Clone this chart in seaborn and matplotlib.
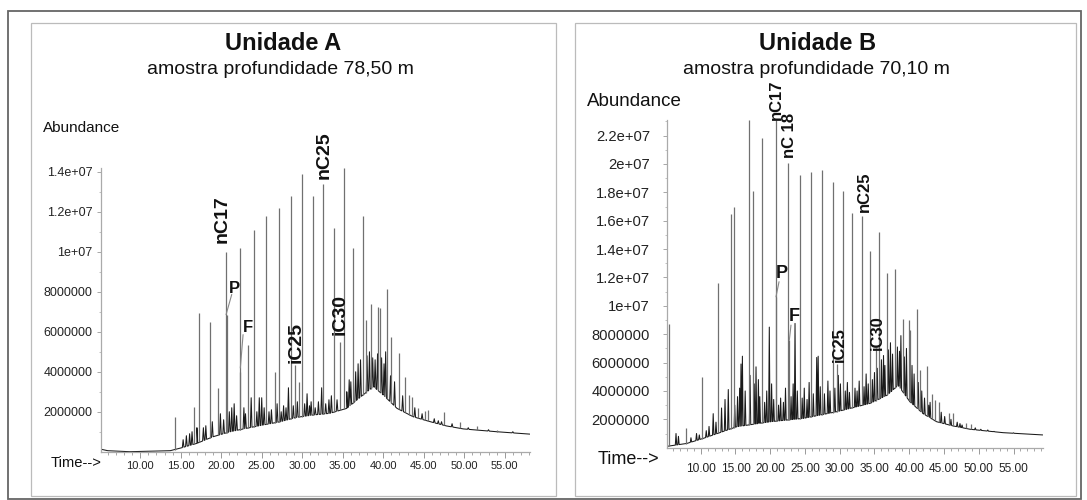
import numpy as np
import matplotlib
matplotlib.use("Agg")
import matplotlib.pyplot as plt
import seaborn as sns

# =========================
# DATA
# =========================
# Unidade A - background hump (time min, abundance)
a_base_t = [5.2, 6.0, 8.7, 13.7, 14.9, 17.0, 19.0, 21.1, 23.1, 25.2, 27.3, 29.3, 31.4, 33.4,
            35.5, 37.5, 38.8, 40.0, 41.7, 43.7, 45.8, 47.8, 49.9, 54.0, 58.1]
a_base_y = [0.12e6, 0.05e6, 0.0, 0.05e6, 0.17e6, 0.42e6, 0.75e6, 1.0e6, 1.17e6, 1.34e6, 1.5e6,
            1.72e6, 1.84e6, 1.92e6, 2.17e6, 2.84e6, 3.26e6, 2.84e6, 2.17e6, 1.75e6, 1.5e6,
            1.29e6, 1.14e6, 1.0e6, 0.88e6]

# Unidade A - resolved peaks (tall lines)
a_peak_t = [14.26, 16.68, 17.30, 18.62, 19.64, 20.56, 20.68, 22.28, 22.36, 23.31, 24.01, 25.57,
            26.64, 27.10, 28.62, 29.11, 29.64, 30.01, 31.33, 32.60, 33.89, 34.67, 35.16, 36.31,
            37.47, 37.88, 38.49, 39.36, 39.60, 40.47, 41.00, 41.91, 42.65, 43.22, 43.59, 44.33,
            45.16, 45.57, 47.54, 49.48, 51.54, 54.01]
a_peak_y = [1.75e6, 2.25e6, 6.95e6, 6.48e6, 3.18e6, 1.0e7, 6.85e6, 1.02e7, 4.0e6, 5.36e6, 1.11e7,
            1.18e7, 4.0e6, 1.22e7, 1.28e7, 4.35e6, 3.5e6, 1.39e7, 1.28e7, 1.34e7, 1.12e7, 5.5e6,
            1.42e7, 1.02e7, 1.18e7, 6.6e6, 7.4e6, 7.25e6, 7.2e6, 8.15e6, 5.75e6, 4.94e6, 3.73e6,
            2.85e6, 2.76e6, 2.2e6, 2.06e6, 2.1e6, 1.97e6, 1.5e6, 1.29e6, 1.1e6]

# Unidade A - small unresolved peaks on the hump
a_minor_t = [15.3, 15.7, 16.1, 16.4, 17.0, 17.8, 18.1, 18.9, 19.9, 20.3, 21.0, 21.3, 21.6, 21.9,
             22.8, 23.0, 23.7, 24.4, 24.7, 25.0, 25.3, 25.9, 26.2, 26.9, 27.4, 27.7, 28.0, 28.3,
             28.9, 29.4, 30.3, 30.6, 30.9, 31.1, 31.6, 32.0, 32.4, 32.9, 33.3, 33.6, 34.3, 35.5,
             35.8, 36.0, 36.6, 36.9, 37.2, 38.0, 38.3, 38.7, 39.0, 39.3, 39.8, 40.1, 40.3, 40.9,
             41.4, 42.4, 43.9, 44.8, 46.3, 46.8, 47.2, 48.5, 50.5, 53.0, 56.0]
a_minor_y = [0.6e6, 0.8e6, 0.9e6, 1.0e6, 1.2e6, 1.2e6, 1.3e6, 1.5e6, 1.9e6, 1.6e6, 2.0e6, 2.2e6,
             2.4e6, 1.8e6, 2.2e6, 1.9e6, 2.7e6, 2.0e6, 2.7e6, 2.7e6, 2.2e6, 2.0e6, 2.1e6, 2.4e6,
             2.0e6, 2.3e6, 2.2e6, 3.2e6, 2.3e6, 2.5e6, 2.4e6, 2.9e6, 2.3e6, 2.5e6, 2.2e6, 2.5e6,
             3.2e6, 2.4e6, 2.6e6, 2.8e6, 2.6e6, 3.0e6, 3.6e6, 3.5e6, 4.0e6, 4.4e6, 4.6e6, 4.8e6,
             5.0e6, 4.7e6, 4.6e6, 4.9e6, 4.7e6, 4.4e6, 5.0e6, 3.8e6, 3.5e6, 2.8e6, 2.2e6, 1.9e6,
             1.65e6, 1.55e6, 1.5e6, 1.4e6, 1.2e6, 1.1e6, 1.0e6]

# Unidade B - background hump
b_base_t = [5.2, 8.0, 10.4, 15.2, 20.0, 24.8, 29.6, 34.4, 36.8, 38.4, 40.1, 42.0, 43.95, 46.35,
            48.75, 53.5, 59.2]
b_base_y = [0.1e6, 0.3e6, 0.66e6, 1.48e6, 1.83e6, 2.07e6, 2.54e6, 3.13e6, 3.7e6, 4.4e6, 3.24e6,
            2.4e6, 1.83e6, 1.53e6, 1.3e6, 1.06e6, 0.9e6]

# Unidade B - resolved peaks
b_peak_t = [5.48, 7.88, 10.23, 12.53, 14.30, 14.75, 16.90, 17.48, 18.82, 20.83, 20.90, 22.50,
            22.70, 24.29, 25.87, 27.50, 28.99, 29.57, 30.43, 31.82, 33.16, 34.40, 35.18, 35.70,
            36.76, 37.96, 39.06, 39.93, 40.10, 41.08, 41.60, 42.50, 43.28, 43.76, 44.24, 45.68,
            46.35, 48.17, 48.90]
b_peak_y = [8.7e6, 1.37e6, 5.0e6, 1.158e7, 1.65e7, 1.70e7, 2.31e7, 1.81e7, 2.18e7, 2.31e7, 1.06e7,
            2.01e7, 7.6e6, 1.92e7, 1.94e7, 1.96e7, 1.87e7, 5.9e6, 1.81e7, 1.655e7, 1.63e7,
            1.385e7, 7.0e6, 1.52e7, 1.228e7, 1.263e7, 9.04e6, 9.0e6, 8.3e6, 9.77e6, 5.5e6,
            5.75e6, 3.76e6, 3.36e6, 3.24e6, 2.42e6, 2.45e6, 1.72e6, 1.7e6]

# Unidade B - small unresolved peaks
b_minor_t = [6.45, 6.8, 8.6, 9.4, 9.8, 10.8, 11.2, 11.8, 12.2, 13.0, 13.5, 13.97, 14.9, 15.3,
             15.6, 15.8, 16.0, 16.4, 17.1, 17.7, 17.96, 18.3, 18.5, 19.2, 19.5, 19.87, 20.2,
             20.5, 21.2, 21.5, 21.9, 22.2, 23.0, 23.3, 23.57, 23.9, 24.6, 24.9, 25.3, 25.6, 26.2,
             26.69, 26.9, 27.2, 27.8, 28.3, 28.6, 29.3, 29.8, 30.1, 30.8, 31.1, 31.4, 32.2, 32.5,
             32.8, 33.5, 33.8, 34.1, 34.7, 35.0, 35.4, 36.0, 36.3, 36.5, 37.0, 37.3, 37.6, 38.3,
             38.6, 38.8, 39.3, 39.6, 40.4, 40.7, 41.3, 41.8, 42.2, 42.8, 43.0, 44.6, 45.1, 46.0,
             46.9, 47.3, 47.6, 49.5, 50.3, 51.3, 52.2, 55.0, 56.5]
b_minor_y = [1.0e6, 0.8e6, 0.7e6, 1.0e6, 0.9e6, 1.2e6, 1.5e6, 2.4e6, 1.8e6, 2.8e6, 3.4e6, 4.1e6,
             3.0e6, 3.6e6, 4.2e6, 5.9e6, 6.45e6, 4.0e6, 5.1e6, 4.5e6, 5.7e6, 4.8e6, 3.6e6, 3.2e6,
             4.0e6, 8.5e6, 4.5e6, 3.4e6, 3.0e6, 3.5e6, 3.2e6, 4.2e6, 3.6e6, 4.5e6, 8.76e6, 4.0e6,
             3.5e6, 4.2e6, 3.4e6, 4.6e6, 3.8e6, 6.36e6, 6.45e6, 4.3e6, 3.8e6, 4.7e6, 4.0e6, 4.2e6,
             5.1e6, 4.5e6, 4.0e6, 4.6e6, 3.9e6, 4.2e6, 4.0e6, 4.7e6, 4.3e6, 5.2e6, 4.5e6, 4.8e6,
             5.3e6, 5.6e6, 6.2e6, 6.5e6, 5.8e6, 6.9e6, 7.4e6, 6.6e6, 7.1e6, 6.8e6, 7.9e6, 6.4e6,
             7.0e6, 5.8e6, 5.2e6, 4.6e6, 4.0e6, 3.5e6, 3.0e6, 3.2e6, 2.5e6, 2.2e6, 2.0e6, 1.8e6,
             1.7e6, 1.6e6, 1.4e6, 1.3e6, 1.25e6, 1.15e6, 1.05e6, 0.98e6]

a_yticks = [2e6, 4e6, 6e6, 8e6, 1e7, 1.2e7, 1.4e7]
a_yticklabels = ["2000000", "4000000", "6000000", "8000000", "1e+07", "1.2e+07", "1.4e+07"]
b_yticks = [2e6, 4e6, 6e6, 8e6, 1e7, 1.2e7, 1.4e7, 1.6e7, 1.8e7, 2e7, 2.2e7]
b_yticklabels = ["2000000", "4000000", "6000000", "8000000", "1e+07", "1.2e+07", "1.4e+07",
                 "1.6e+07", "1.8e+07", "2e+07", "2.2e+07"]
xticks = [10, 15, 20, 25, 30, 35, 40, 45, 50, 55]
xticklabels = ["10.00", "15.00", "20.00", "25.00", "30.00", "35.00", "40.00", "45.00", "50.00", "55.00"]

# compound labels: (text, time, abundance)
a_rot_labels = [("nC17", 20.1, 1.047e7), ("nC25", 32.75, 1.365e7),
                ("iC25", 29.27, 4.44e6), ("iC30", 34.67, 5.86e6)]
b_rot_labels = [("nC17", 20.83, 2.31e7), ("nC 18", 22.73, 2.04e7), ("nC25", 33.5, 1.66e7),
                ("iC25", 29.95, 6.06e6), ("iC30", 35.44, 6.88e6)]

# =========================
# STYLE
# =========================
sns.set_theme(style="white")
plt.rcParams["font.family"] = ["Liberation Sans", "DejaVu Sans"]

W, H = 1087, 500
fig = plt.figure(figsize=(W / 100, H / 100), dpi=100)


def fx(x):
    return x / W


def fy(y):
    return 1 - y / H


def frame(x0, y0, x1, y1, color, lw):
    fig.add_artist(plt.Rectangle((fx(x0), fy(y1)), (x1 - x0) / W, (y1 - y0) / H,
                                 transform=fig.transFigure, fill=False, ec=color, lw=lw))


frame(8, 11, 1081, 499, "#666666", 1.3)
frame(31, 23, 556, 496, "#bbbbbb", 0.9)
frame(575, 23, 1076, 496, "#bbbbbb", 0.9)


def build_trace(base_t, base_y, minor_t, minor_y, w=0.1):
    # background line with small triangular spikes
    xs = list(base_t)
    ys = list(base_y)
    for t, top in zip(minor_t, minor_y):
        for dt in (-w, w):
            xs.append(t + dt)
            ys.append(np.interp(t + dt, base_t, base_y))
        xs.append(t)
        ys.append(top)
    order = np.argsort(xs)
    return np.array(xs)[order], np.array(ys)[order]


def draw_panel(ax, base_t, base_y, peak_t, peak_y, minor_t, minor_y, xlim, ylim,
               yticks, yticklabels, tick_fs, xtick_fs):
    tx, ty = build_trace(base_t, base_y, minor_t, minor_y)
    sns.lineplot(x=tx, y=ty, ax=ax, color="#1a1a1a", lw=0.75, sort=False, estimator=None)
    foot = np.interp(peak_t, base_t, base_y)
    ax.vlines(peak_t, foot, peak_y, color="#707070", lw=0.9)
    ax.set_xlim(*xlim)
    ax.set_ylim(*ylim)
    ax.set_xticks(xticks)
    ax.set_xticklabels(xticklabels, fontsize=xtick_fs, color="#222222")
    ax.set_xticks(np.arange(6, xlim[1], 1.0), minor=True)
    ax.set_yticks(yticks)
    ax.set_yticklabels(yticklabels, fontsize=tick_fs, color="#222222")
    ax.set_yticks(np.arange(1e6, ylim[1], 1e6), minor=True)
    for s in ("top", "right"):
        ax.spines[s].set_visible(False)
    for s in ("left", "bottom"):
        ax.spines[s].set_color("#aaaaaa")
        ax.spines[s].set_linewidth(0.9)
    ax.tick_params(axis="x", which="major", direction="out", length=4, width=0.7,
                   color="#999999", bottom=True, pad=3)
    ax.tick_params(axis="x", which="minor", direction="out", length=2, width=0.6,
                   color="#999999", bottom=True)
    ax.tick_params(axis="y", which="major", direction="out", length=3, width=0.6,
                   color="#999999", left=True)
    ax.tick_params(axis="y", which="minor", direction="out", length=1.5, width=0.5,
                   color="#aaaaaa", left=True)
    ax.set_xlabel("")
    ax.set_ylabel("")
    ax.patch.set_alpha(0)


# =========================
# PANEL A
# =========================
axA = fig.add_axes([fx(101), fy(451.7), (530 - 101) / W, (451.7 - 168) / H])
draw_panel(axA, a_base_t, a_base_y, a_peak_t, a_peak_y, a_minor_t, a_minor_y,
           (5.16, 58.12), (0, 1.42e7), a_yticks, a_yticklabels, 9, 8)
axA.tick_params(axis="y", pad=3)
for txt, t, v in a_rot_labels:
    axA.text(t, v, txt, rotation=90, ha="center", va="bottom", fontsize=14,
             fontweight="bold", color="#111111", clip_on=False)
axA.text(21.6, 8.17e6, "P", ha="center", va="center", fontsize=12, fontweight="bold", color="#111111")
axA.plot([21.3, 20.6], [7.87e6, 6.86e6], color="#888888", lw=0.8)
axA.text(23.25, 6.24e6, "F", ha="center", va="center", fontsize=12, fontweight="bold", color="#111111")
axA.plot([22.7, 22.36], [5.86e6, 4.19e6], color="#888888", lw=0.8)

fig.text(fx(283), fy(44), "Unidade A", ha="center", va="center", fontsize=17,
         fontweight="bold", color="#111111")
fig.text(fx(280), fy(69), "amostra profundidade 78,50 m", ha="center", va="center",
         fontsize=14, color="#111111")
fig.text(fx(43), fy(128), "Abundance", ha="left", va="center", fontsize=11, color="#111111")
fig.text(fx(51), fy(463), "Time-->", ha="left", va="center", fontsize=10.6, color="#111111")

# =========================
# PANEL B
# =========================
axB = fig.add_axes([fx(666.7), fy(447.7), (1042.7 - 666.7) / W, (447.7 - 120) / H])
draw_panel(axB, b_base_t, b_base_y, b_peak_t, b_peak_y, b_minor_t, b_minor_y,
           (5.11, 59.2), (0, 2.31e7), b_yticks, b_yticklabels, 10.6, 8.6)
axB.tick_params(axis="y", pad=9)
axB.tick_params(axis="x", pad=7)
for txt, t, v in b_rot_labels:
    axB.text(t, v, txt, rotation=90, ha="center", va="bottom", fontsize=12,
             fontweight="bold", color="#111111", clip_on=False)
axB.text(21.65, 1.228e7, "P", ha="center", va="center", fontsize=13, fontweight="bold", color="#111111")
axB.plot([21.27, 20.83], [1.17e7, 1.063e7], color="#888888", lw=0.8)
axB.text(23.5, 9.22e6, "F", ha="center", va="center", fontsize=13, fontweight="bold", color="#111111")
axB.plot([22.99, 22.75], [8.64e6, 7.58e6], color="#888888", lw=0.8)

fig.text(fx(818), fy(44), "Unidade B", ha="center", va="center", fontsize=17,
         fontweight="bold", color="#111111")
fig.text(fx(816), fy(69), "amostra profundidade 70,10 m", ha="center", va="center",
         fontsize=14, color="#111111")
fig.text(fx(587), fy(101), "Abundance", ha="left", va="center", fontsize=13.5, color="#111111")
fig.text(fx(598), fy(460), "Time-->", ha="left", va="center", fontsize=13, color="#111111")

fig.savefig("out.png", dpi=100)
